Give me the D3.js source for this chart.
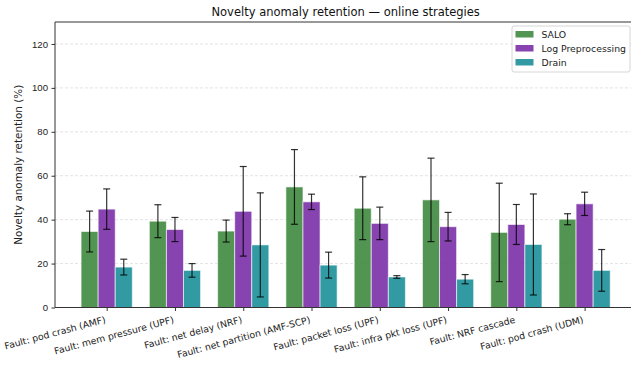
<!DOCTYPE html>
<html>
<head>
<meta charset="utf-8">
<script src="https://cdn.jsdelivr.net/npm/d3@7"></script>
<style>
  html, body { margin: 0; padding: 0; background: #fff; }
  svg { display: block; font-family: "DejaVu Sans", sans-serif; }
</style>
</head>
<body>
<div id="chart"></div>
<script>
// Fault scenarios on the x axis
const categories = [
  "Fault: pod crash (AMF)",
  "Fault: mem pressure (UPF)",
  "Fault: net delay (NRF)",
  "Fault: net partition (AMF-SCP)",
  "Fault: packet loss (UPF)",
  "Fault: infra pkt loss (UPF)",
  "Fault: NRF cascade",
  "Fault: pod crash (UDM)"
];

// Mean retention (%) and standard deviation per strategy
const saloValues = [34.6, 39.3, 34.8, 54.9, 45.2, 49.0, 34.2, 40.2];
const saloErrors = [9.3, 7.5, 5.0, 17.0, 14.3, 19.0, 22.4, 2.5];
const logValues  = [44.8, 35.5, 43.8, 48.1, 38.3, 36.8, 37.8, 47.2];
const logErrors  = [9.2, 5.5, 20.4, 3.5, 7.4, 6.5, 9.1, 5.3];
const drainValues = [18.4, 16.9, 28.5, 19.3, 13.9, 12.9, 28.7, 16.9];
const drainErrors = [3.6, 3.1, 23.7, 5.9, 0.6, 2.1, 23.0, 9.5];

const seriesNames = ["SALO", "Log Preprocessing", "Drain"];
const yTicks = [0, 20, 40, 60, 80, 100, 120];

const series = [
  { name: seriesNames[0], values: saloValues, errors: saloErrors, color: "#3f8a3f", offset: -1 },
  { name: seriesNames[1], values: logValues, errors: logErrors, color: "#7a2fa6", offset: 0 },
  { name: seriesNames[2], values: drainValues, errors: drainErrors, color: "#1b8f99", offset: 1 }
];

const W = 631, H = 365;
const margin = { left: 55, top: 22, bottom: 57.5 };
const plotRight = 636.3;
const barW = 0.25;
const fs = 9.3;

const svg = d3.select("#chart").append("svg")
  .attr("width", W).attr("height", H);

const x = d3.scaleLinear()
  .domain([-0.757, categories.length - 1 + 0.757])
  .range([margin.left, plotRight]);
const y = d3.scaleLinear()
  .domain([0, 130])
  .range([H - margin.bottom, margin.top]);

// dashed horizontal grid
svg.append("g")
  .selectAll("line")
  .data(yTicks.filter(t => t > 0))
  .join("line")
  .attr("x1", margin.left).attr("x2", plotRight)
  .attr("y1", d => y(d)).attr("y2", d => y(d))
  .attr("stroke", "#b0b0b0").attr("stroke-opacity", 0.45)
  .attr("stroke-width", 0.8).attr("stroke-dasharray", "3,2");

// bars
series.forEach(s => {
  const g = svg.append("g");
  g.selectAll("rect")
    .data(s.values)
    .join("rect")
    .attr("x", (d, i) => x(i + s.offset * barW - barW / 2))
    .attr("width", x(barW) - x(0))
    .attr("y", d => y(d))
    .attr("height", d => y(0) - y(d))
    .attr("fill", s.color).attr("fill-opacity", 0.9)
    .attr("stroke", "#ffffff").attr("stroke-opacity", 0.6).attr("stroke-width", 1);
});

// error bars
series.forEach(s => {
  const g = svg.append("g")
    .attr("stroke", "#000").attr("stroke-opacity", 0.8).attr("stroke-width", 1.2);
  s.values.forEach((v, i) => {
    const cx = x(i + s.offset * barW);
    const lo = y(v - s.errors[i]), hi = y(v + s.errors[i]);
    g.append("line").attr("x1", cx).attr("x2", cx).attr("y1", lo).attr("y2", hi);
    g.append("line").attr("x1", cx - 3.5).attr("x2", cx + 3.5).attr("y1", lo).attr("y2", lo);
    g.append("line").attr("x1", cx - 3.5).attr("x2", cx + 3.5).attr("y1", hi).attr("y2", hi);
  });
});

// y axis
const yAxis = svg.append("g")
  .attr("transform", `translate(${margin.left},0)`)
  .call(d3.axisLeft(y).tickValues(yTicks).tickSize(3.5).tickPadding(3.5));
yAxis.select(".domain").remove();
yAxis.selectAll("text").attr("font-size", 9.6).attr("fill", "#222");
yAxis.selectAll("line").attr("stroke", "#333");

// x axis
const xAxis = svg.append("g")
  .attr("transform", `translate(0,${y(0)})`)
  .call(d3.axisBottom(x).tickValues(d3.range(categories.length)).tickSize(3.5).tickFormat(""));
xAxis.select(".domain").remove();
xAxis.selectAll("line").attr("stroke", "#333");

svg.append("g")
  .selectAll("text")
  .data(categories)
  .join("text")
  .attr("transform", (d, i) => `translate(${x(i) - 0.5},${y(0) + 15}) rotate(-15)`)
  .attr("text-anchor", "end")
  .attr("font-size", fs).attr("fill", "#222")
  .text(d => d);

// spines
svg.append("line")
  .attr("x1", margin.left).attr("x2", margin.left)
  .attr("y1", y(0)).attr("y2", margin.top)
  .attr("stroke", "#333").attr("stroke-width", 1);
svg.append("line")
  .attr("x1", margin.left).attr("x2", plotRight)
  .attr("y1", y(0)).attr("y2", y(0))
  .attr("stroke", "#333").attr("stroke-width", 1);
svg.append("line")
  .attr("x1", margin.left).attr("x2", plotRight)
  .attr("y1", margin.top).attr("y2", margin.top)
  .attr("stroke", "#333").attr("stroke-width", 1);

// title and y label
svg.append("text")
  .attr("x", (margin.left + plotRight) / 2).attr("y", 16)
  .attr("text-anchor", "middle").attr("font-size", 11.5).attr("fill", "#111")
  .text("Novelty anomaly retention — online strategies");

svg.append("text")
  .attr("transform", `translate(22,${(y(0) + margin.top) / 2}) rotate(-90)`)
  .attr("text-anchor", "middle").attr("font-size", 10.4).attr("fill", "#222")
  .text("Novelty anomaly retention (%)");

// legend
const lg = svg.append("g").attr("transform", "translate(512,26)");
lg.append("rect")
  .attr("width", 118).attr("height", 46).attr("rx", 2)
  .attr("fill", "#fff").attr("fill-opacity", 0.8)
  .attr("stroke", "#ccc").attr("stroke-width", 0.8);
series.forEach((s, i) => {
  const row = lg.append("g").attr("transform", `translate(0,${8 + i * 14})`);
  row.append("rect").attr("x", 3.5).attr("y", -3).attr("width", 18).attr("height", 6.5)
    .attr("fill", s.color).attr("fill-opacity", 0.9);
  row.append("text").attr("x", 29.5).attr("y", 3.5)
    .attr("font-size", fs).attr("fill", "#222").text(s.name);
});
</script>
</body>
</html>
